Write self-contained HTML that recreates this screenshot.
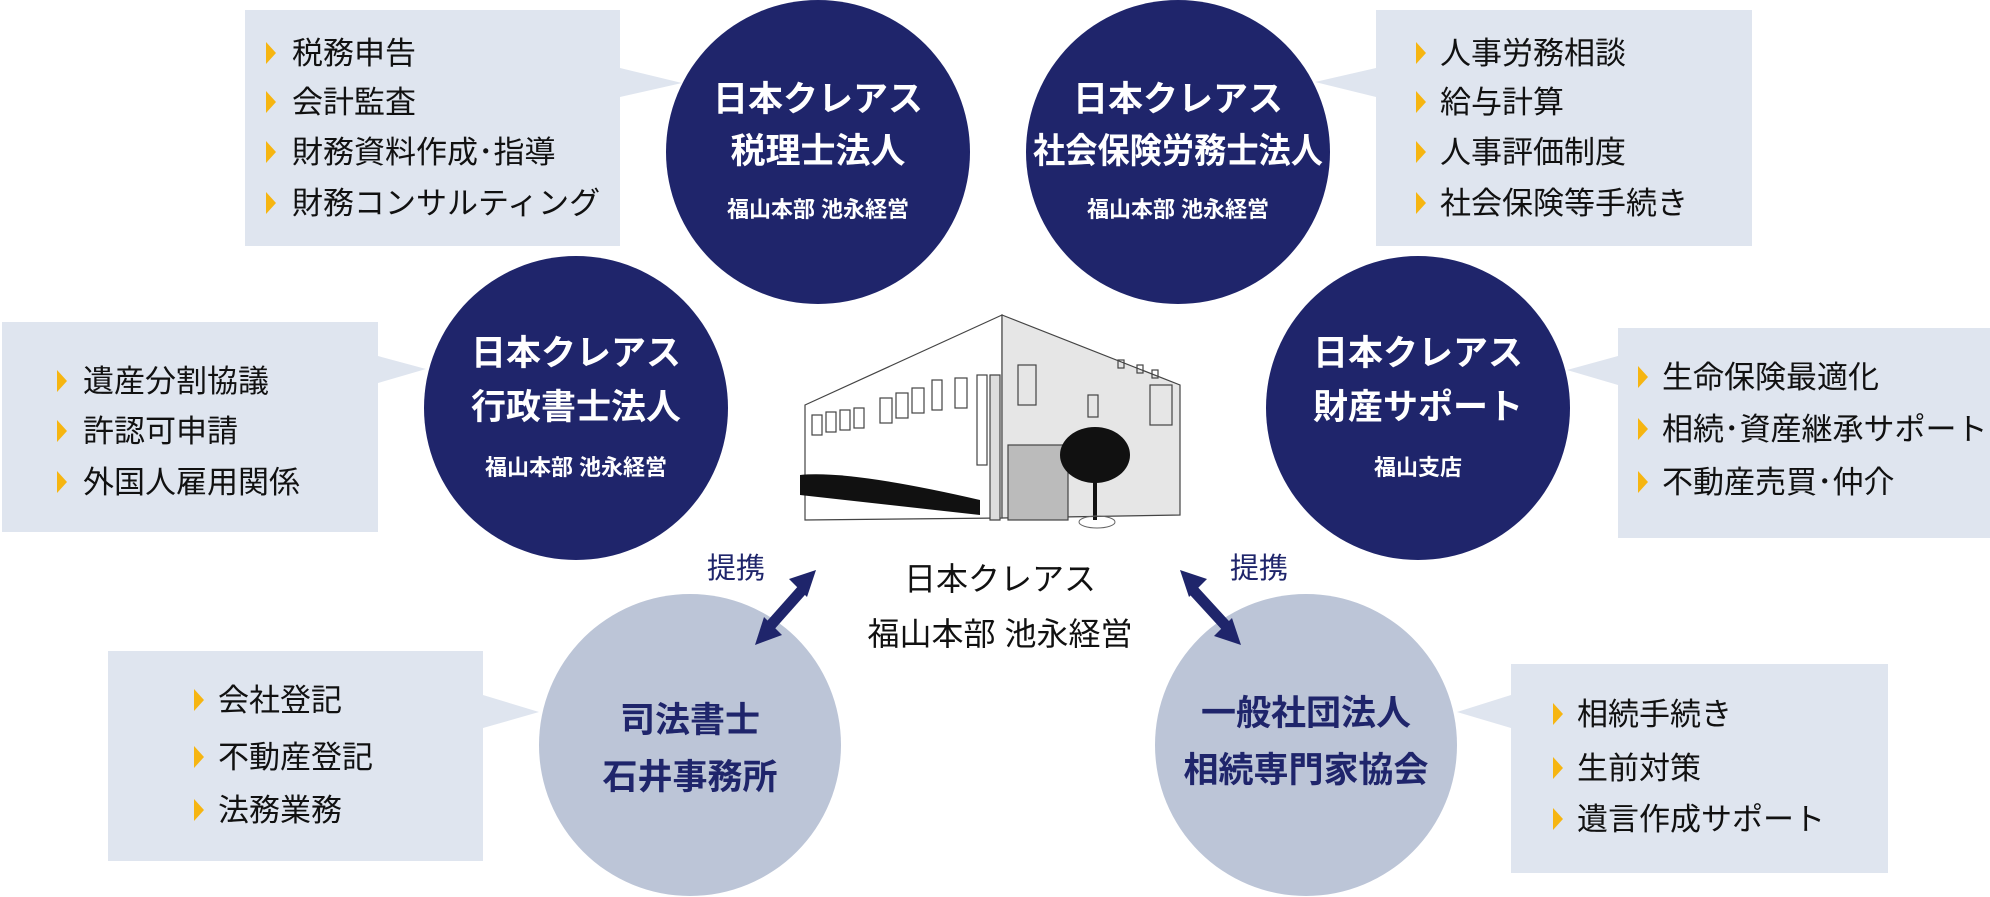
<!DOCTYPE html>
<html><head><meta charset="utf-8"><style>
html,body{margin:0;padding:0;background:#fff;}
svg{display:block;}
text{font-family:"Liberation Sans","Noto Sans CJK JP",sans-serif;}
.it{font-size:31px;fill:#111;}
.ct{font-size:35px;fill:#fff;font-weight:bold;text-anchor:middle;}
.cs{font-size:22px;fill:#fff;font-weight:bold;text-anchor:middle;}
.lt{font-size:35px;fill:#1f256b;font-weight:bold;text-anchor:middle;}
</style></head><body>
<svg width="1990" height="897" viewBox="0 0 1990 897" xmlns="http://www.w3.org/2000/svg">
<defs>
<polygon id="tri" points="0,-11 10,0 0,11" fill="#f6b511"/>
</defs>
<g fill="#dfe5ef">
<rect x="245" y="10" width="375" height="236"/><polygon points="620,68 682,83 620,97"/>
<rect x="1376" y="10" width="376" height="236"/><polygon points="1376,68 1315,82 1376,97"/>
<rect x="2" y="322" width="376" height="210"/><polygon points="378,356 426,369 378,383"/>
<rect x="1618" y="328" width="372" height="210"/><polygon points="1618,356 1567,370 1618,385"/>
<rect x="108" y="651" width="375" height="210"/><polygon points="483,695 539,712 483,728"/>
<rect x="1511" y="664" width="377" height="209"/><polygon points="1511,695 1457,712 1511,728"/>
</g>
<g fill="#1f256b">
<circle cx="818" cy="152" r="152"/>
<circle cx="1178" cy="152" r="152"/>
<circle cx="576" cy="408" r="152"/>
<circle cx="1418" cy="408" r="152"/>
</g>
<g fill="#bcc5d7">
<circle cx="690" cy="745" r="151"/>
<circle cx="1306" cy="745" r="151"/>
</g>
<text class="ct" x="818" y="111">日本クレアス</text>
<text class="ct" x="818" y="163">税理士法人</text>
<text class="cs" x="818" y="217">福山本部 池永経営</text>
<text class="ct" x="1178" y="111">日本クレアス</text>
<text class="ct" x="1178" y="163" textLength="290" lengthAdjust="spacingAndGlyphs">社会保険労務士法人</text>
<text class="cs" x="1178" y="217">福山本部 池永経営</text>
<text class="ct" x="576" y="365">日本クレアス</text>
<text class="ct" x="576" y="419">行政書士法人</text>
<text class="cs" x="576" y="475">福山本部 池永経営</text>
<text class="ct" x="1418" y="365">日本クレアス</text>
<text class="ct" x="1418" y="419">財産サポート</text>
<text class="cs" x="1418" y="475">福山支店</text>
<text class="lt" x="690" y="732">司法書士</text>
<text class="lt" x="690" y="789">石井事務所</text>
<text class="lt" x="1306" y="725">一般社団法人</text>
<text class="lt" x="1306" y="782">相続専門家協会</text>
<g>
<use href="#tri" x="266" y="53"/><text class="it" x="292" y="64">税務申告</text>
<use href="#tri" x="266" y="102"/><text class="it" x="292" y="113">会計監査</text>
<use href="#tri" x="266" y="152"/><text class="it" x="292" y="163">財務資料作成･指導</text>
<use href="#tri" x="266" y="203"/><text class="it" x="292" y="214">財務コンサルティング</text>

<use href="#tri" x="1416" y="53"/><text class="it" x="1440" y="64">人事労務相談</text>
<use href="#tri" x="1416" y="102"/><text class="it" x="1440" y="113">給与計算</text>
<use href="#tri" x="1416" y="152"/><text class="it" x="1440" y="163">人事評価制度</text>
<use href="#tri" x="1416" y="203"/><text class="it" x="1440" y="214">社会保険等手続き</text>

<use href="#tri" x="57" y="381"/><text class="it" x="83" y="392">遺産分割協議</text>
<use href="#tri" x="57" y="431"/><text class="it" x="83" y="442">許認可申請</text>
<use href="#tri" x="57" y="482"/><text class="it" x="83" y="493">外国人雇用関係</text>

<use href="#tri" x="1638" y="377"/><text class="it" x="1662" y="388">生命保険最適化</text>
<use href="#tri" x="1638" y="429"/><text class="it" x="1662" y="440">相続･資産継承サポート</text>
<use href="#tri" x="1638" y="482"/><text class="it" x="1662" y="493">不動産売買･仲介</text>

<use href="#tri" x="194" y="700"/><text class="it" x="218" y="711">会社登記</text>
<use href="#tri" x="194" y="757"/><text class="it" x="218" y="768">不動産登記</text>
<use href="#tri" x="194" y="810"/><text class="it" x="218" y="821">法務業務</text>

<use href="#tri" x="1553" y="714"/><text class="it" x="1577" y="725">相続手続き</text>
<use href="#tri" x="1553" y="768"/><text class="it" x="1577" y="779">生前対策</text>
<use href="#tri" x="1553" y="819"/><text class="it" x="1577" y="830">遺言作成サポート</text>
</g>
<g stroke="#444" stroke-width="1.2">
<polygon points="805,405 1002,315 1002,518 805,520" fill="#fff"/>
<polygon points="1002,315 1180,385 1180,515 1002,518" fill="#e6e6e6"/>
<polygon points="990,375 1000,375 1000,520 990,520" fill="#ddd"/>
<rect x="1008" y="445" width="60" height="75" fill="#bbb"/>
<g fill="none">
<rect x="1018" y="365" width="18" height="40"/><rect x="1088" y="395" width="10" height="22"/><rect x="1150" y="385" width="22" height="40"/>
<rect x="1118" y="360" width="6" height="8"/><rect x="1137" y="365" width="6" height="8"/><rect x="1152" y="370" width="6" height="8"/>
<rect x="812" y="415" width="10" height="20"/><rect x="826" y="412" width="10" height="20"/><rect x="840" y="410" width="10" height="20"/><rect x="854" y="408" width="10" height="20"/>
<rect x="880" y="398" width="12" height="25"/><rect x="896" y="393" width="12" height="25"/><rect x="912" y="388" width="12" height="25"/><rect x="932" y="380" width="10" height="30"/><rect x="955" y="378" width="12" height="30"/>
</g>
<rect x="977" y="375" width="10" height="90" fill="#fff"/>
</g>
<g fill="#111">
<path d="M800,475 Q850,470 980,500 L980,515 L800,495 Z"/>
<ellipse cx="1095" cy="455" rx="35" ry="28"/>
<rect x="1093" y="460" width="4" height="60"/>
</g>
<ellipse cx="1097" cy="522" rx="18" ry="6" fill="none" stroke="#666"/>
<text x="1000" y="590" font-size="32" text-anchor="middle" fill="#111">日本クレアス</text>
<text x="1000" y="645" font-size="32" text-anchor="middle" fill="#111">福山本部 池永経営</text>
<text x="736" y="578" font-size="29" text-anchor="middle" fill="#1f256b">提携</text>
<text x="1259" y="578" font-size="29" text-anchor="middle" fill="#1f256b">提携</text>
<g stroke="#1f256b" stroke-width="11" fill="#1f256b">
<line x1="802" y1="590" x2="770" y2="626"/>
<line x1="1193" y1="590" x2="1226" y2="626"/>
</g>
<g fill="#1f256b">
<polygon points="816,570 789,579 807,597"/>
<polygon points="755,645 764,617 782,635"/>
<polygon points="1180,570 1189,597 1207,579"/>
<polygon points="1241,645 1214,636 1232,618"/>
</g>
</svg>
</body></html>
